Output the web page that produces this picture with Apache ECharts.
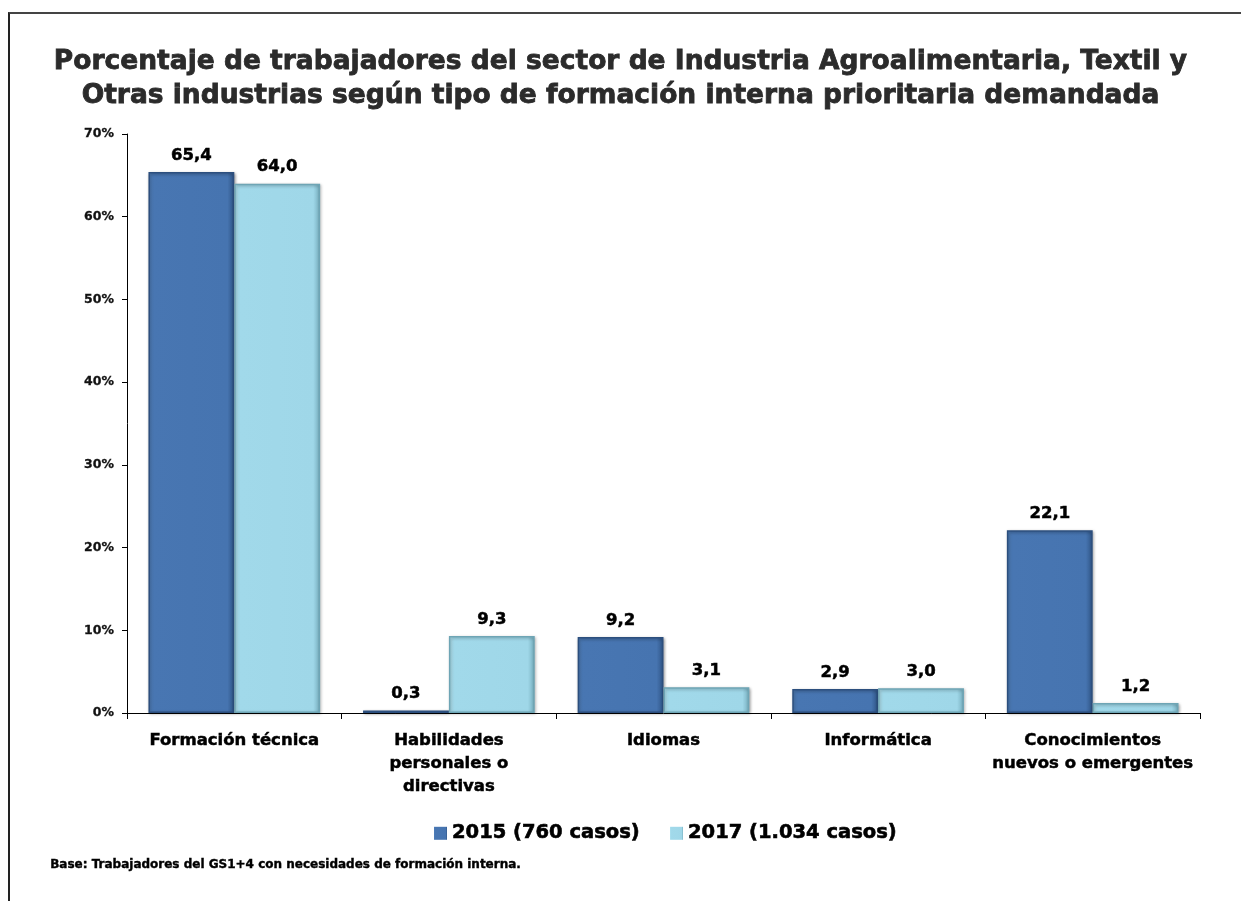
<!DOCTYPE html>
<html>
<head>
<meta charset="utf-8">
<script src="https://cdn.jsdelivr.net/npm/echarts@6/dist/echarts.min.js"></script>
<style>
  html, body { margin: 0; padding: 0; background: #fff; overflow: hidden; }
  #frame { position: absolute; left: 8px; top: 12px; width: 1300px; height: 1000px;
           border-left: 2px solid #222; border-top: 2px solid #444; }
  #chart { position: absolute; left: 0; top: 0; width: 1241px; height: 901px; }
</style>
</head>
<body>
<div id="frame"></div>
<div id="chart"></div>
<script>
const titleText = 'Porcentaje de trabajadores del sector de Industria Agroalimentaria, Textil y\nOtras industrias según tipo de formación interna prioritaria demandada'
const footnote = 'Base: Trabajadores del GS1+4 con necesidades de formación interna.'
const categories = ['Formación técnica', 'Habilidades\npersonales o\ndirectivas', 'Idiomas', 'Informática', 'Conocimientos\nnuevos o emergentes']
const seriesNames = ['2015 (760 casos)', '2017 (1.034 casos)']
const values2015 = [65.4, 0.3, 9.2, 2.9, 22.1]
const values2017 = [64.0, 9.3, 3.1, 3.0, 1.2]

const font = '"DejaVu Sans", Verdana, sans-serif'
const fmt = v => v.toFixed(1).replace('.', ',')
// thicken DejaVu bold a little so it looks like Tahoma bold
const heavy = (color, w) => ({ textBorderColor: color, textBorderWidth: w })

function initChart() {
  try {
    let elm = document.getElementById('chart')
    let myChart = echarts.init(elm)
    let options = {
      animation: false,
      textStyle: { fontFamily: font },
      title: {
        text: titleText,
        left: 'center',
        top: 40,
        textStyle: { fontFamily: font, fontSize: 26.5, fontWeight: 'bold', color: '#2b2b2b', lineHeight: 34, ...heavy('#2b2b2b', 0.8) }
      },
      graphic: [{
        type: 'text',
        left: 50,
        top: 859,
        style: { text: footnote, fontFamily: font, fontSize: 12, fontWeight: 'bold', fill: '#000', stroke: '#000', lineWidth: 0.4 }
      }],
      legend: {
        data: seriesNames,
        left: 429,
        top: 818,
        icon: 'rect',
        itemWidth: 13,
        itemHeight: 13,
        itemGap: 30,
        itemStyle: { borderWidth: 0 },
        textStyle: { fontFamily: font, fontSize: 19.5, fontWeight: 'bold', color: '#000', padding: [0, 0, 0, 0], ...heavy('#000', 0.6) }
      },
      grid: { left: 127, right: 41, top: 134, bottom: 188, containLabel: false },
      xAxis: {
        type: 'category',
        data: categories,
        axisLine: { lineStyle: { color: '#000', width: 1 } },
        axisTick: { show: true, length: 6, lineStyle: { color: '#000' } },
        axisLabel: { fontFamily: font, fontSize: 16.5, fontWeight: 'bold', color: '#000', lineHeight: 23, margin: 16, interval: 0, ...heavy('#000', 0.5) }
      },
      yAxis: {
        type: 'value',
        min: 0,
        max: 70,
        interval: 10,
        axisLine: { show: true, lineStyle: { color: '#000', width: 1 } },
        axisTick: { show: true, length: 5, lineStyle: { color: '#000' } },
        splitLine: { show: false },
        axisLabel: { formatter: '{value}%', fontFamily: font, fontSize: 12.5, fontWeight: 'bold', color: '#111', margin: 13, ...heavy('#111', 0.3) }
      },
      series: [
        {
          name: seriesNames[0],
          type: 'bar',
          data: values2015,
          barGap: '0%',
          barCategoryGap: '20%',
          itemStyle: {
            color: {
              type: 'linear', x: 0, y: 0, x2: 1, y2: 0,
              colorStops: [
                { offset: 0, color: '#5283bf' }, { offset: 0.06, color: '#4876b2' },
                { offset: 0.92, color: '#4674b0' }, { offset: 1, color: '#2f5485' }
              ]
            },
            borderColor: '#2c4f7e',
            borderWidth: 1.5,
            shadowColor: 'rgba(0,0,0,0.35)',
            shadowBlur: 3,
            shadowOffsetX: 1,
            shadowOffsetY: 1
          },
          label: {
            show: true, position: 'top', distance: 8,
            formatter: p => fmt(p.value),
            fontFamily: font, fontSize: 16.5, fontWeight: 'bold', color: '#000', ...heavy('#000', 0.5)
          }
        },
        {
          name: seriesNames[1],
          type: 'bar',
          data: values2017,
          itemStyle: {
            color: {
              type: 'linear', x: 0, y: 0, x2: 1, y2: 0,
              colorStops: [
                { offset: 0, color: '#b6e6f3' }, { offset: 0.06, color: '#a1d9ea' },
                { offset: 0.92, color: '#9fd7e8' }, { offset: 1, color: '#75acbc' }
              ]
            },
            borderColor: '#6ea5b5',
            borderWidth: 1.5,
            shadowColor: 'rgba(0,0,0,0.3)',
            shadowBlur: 3,
            shadowOffsetX: 1,
            shadowOffsetY: 1
          },
          label: {
            show: true, position: 'top', distance: 8,
            formatter: p => fmt(p.value),
            fontFamily: font, fontSize: 16.5, fontWeight: 'bold', color: '#000', ...heavy('#000', 0.5)
          }
        }
      ]
    }
    myChart.setOption(options)
  } catch (e) {
    console.error('ECHARTS', e.message)
  }
}
initChart()
</script>
</body>
</html>
